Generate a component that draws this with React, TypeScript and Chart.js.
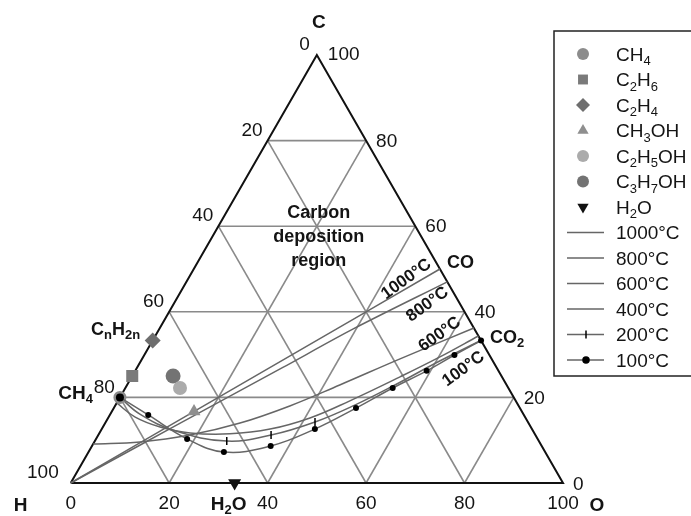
import React, { useEffect, useRef } from 'react';
import { Chart, registerables } from 'chart.js';
import { drawPoint } from 'chart.js/helpers';

Chart.register(...registerables);

const FONT = '"Liberation Sans", Arial, Helvetica, sans-serif';

// ---- axis ticks & grid (atom %) ----
const GRID_LEVELS = [20, 40, 60, 80];
const TICK_VALUES = [0, 20, 40, 60, 80, 100];

// ---- species compositions (atom % C, atom % O; H = rest) ----
const SPECIES_LABELS = ['CH{4}', 'C{2}H{6}', 'C{2}H{4}', 'CH{3}OH', 'C{2}H{5}OH', 'C{3}H{7}OH', 'H{2}O'];
const SPECIES_C = [20, 25, 33.3, 16.7, 22.2, 25, 0];
const SPECIES_O = [0, 0, 0, 16.7, 11.1, 8.3, 33.3];

// ---- carbon deposition boundaries (atom % C, atom % O) ----
const TEMP_LABELS = ['1000°C', '800°C', '600°C', '400°C', '200°C', '100°C'];
const T1000_C = [0, 10, 20, 30, 40, 50];
const T1000_O = [0, 10, 20, 30, 40, 50];
const T800_C = [0, 9, 18, 27, 36, 47];
const T800_O = [0, 9.8, 19.7, 29.6, 39.4, 53];
const T600_C = [9.1, 9.6, 11.2, 14.0, 18.0, 22.9, 29.0, 36.2];
const T600_O = [0, 9.3, 18.6, 27.4, 35.5, 43.2, 52.4, 63.8];
const T400_C = [18.7, 15.4, 13.1, 11.7, 11.5, 12.6, 15.2, 19.2, 24.8, 29.4, 34.35];
const T400_O = [0, 5.4, 11.6, 18.4, 26.6, 34.2, 41.0, 47.1, 54.5, 60.2, 65.65];
const T200_C = [20, 16.1, 12.2, 9.8, 11.2, 14.25, 18.2, 22.9, 28.5, 33.3];
const T200_O = [0, 6.0, 15.1, 26.8, 35.1, 42.5, 48.6, 54.4, 60.7, 66.7];
const T200_MARKED = [false, false, false, true, true, true, false, false, false, false];
const T100_C = [20, 15.9, 10.3, 7.24, 8.64, 12.6, 17.5, 22.2, 26.2, 29.9, 33.3];
const T100_O = [0, 7.8, 18.5, 27.5, 36.3, 43.3, 49.2, 54.3, 59.2, 63.0, 66.7];

// ---- styles ----
const SPECIES_POINT = ['circle', 'rect', 'rectRot', 'triangle', 'circle', 'circle', 'triangle'];
const SPECIES_COLOR = ['#8c8c8c', '#7a7a7a', '#6e6e6e', '#8f8f8f', '#ababab', '#737373', '#111111'];
const SPECIES_RADIUS = [6.5, 8.5, 8, 7.5, 7, 7.5, 7.5];
const SPECIES_LEGEND_RADIUS = [6, 7, 7, 6.5, 6, 6, 6.5];
const SPECIES_ROT = [0, 0, 0, 0, 0, 0, 180];
const CURVE_COLOR = '#666666';
const GRID_COLOR = '#8a8a8a';
const TEXT_COLOR = '#141414';

const toXY = (c: number, o: number) => ({ x: o + c / 2, y: c });
const path = (cs: number[], os: number[]) => cs.map((c, i) => toXY(c, os[i]));

function segs(text: string) {
  const out: { t: string; sub: boolean }[] = [];
  let buf = '';
  let i = 0;
  while (i < text.length) {
    const ch = text[i];
    if (ch === '{') {
      if (buf) out.push({ t: buf, sub: false });
      buf = '';
      const j = text.indexOf('}', i);
      out.push({ t: text.slice(i + 1, j), sub: true });
      i = j + 1;
      continue;
    }
    buf += ch;
    i++;
  }
  if (buf) out.push({ t: buf, sub: false });
  return out;
}

function drawRich(ctx: CanvasRenderingContext2D, text: string, x: number, y: number, size: number, bold: boolean, align: 'left' | 'center' | 'right') {
  const w8 = bold ? 'bold ' : '';
  const main = `${w8}${size}px ${FONT}`;
  const sub = `${w8}${Math.round(size * 0.7)}px ${FONT}`;
  const parts = segs(text);
  let w = 0;
  for (const p of parts) {
    ctx.font = p.sub ? sub : main;
    w += ctx.measureText(p.t).width;
  }
  let cx = align === 'center' ? x - w / 2 : align === 'right' ? x - w : x;
  ctx.textAlign = 'left';
  ctx.textBaseline = 'alphabetic';
  const base = y + size * 0.36;
  for (const p of parts) {
    ctx.font = p.sub ? sub : main;
    ctx.fillText(p.t, cx, p.sub ? base + size * 0.22 : base);
    cx += ctx.measureText(p.t).width;
  }
}

const TEMP_ANNOT = [
  { text: '1000°C', x: 68.0, y: 47.9 },
  { text: '800°C', x: 72.3, y: 42.0 },
  { text: '600°C', x: 74.8, y: 35.0 },
  { text: '100°C', x: 79.6, y: 26.9 },
];

const textPlugin = {
  id: 'ternaryText',
  afterDraw(chart: any) {
    const ctx: CanvasRenderingContext2D = chart.ctx;
    const xs = chart.scales.x;
    const ys = chart.scales.y;
    const P = (c: number, o: number) => ({ x: xs.getPixelForValue(o + c / 2), y: ys.getPixelForValue(c) });
    ctx.save();
    ctx.fillStyle = TEXT_COLOR;
    const reg = `19px ${FONT}`;
    ctx.font = reg;
    ctx.textBaseline = 'middle';
    for (const v of TICK_VALUES) {
      const b = P(0, v);
      ctx.font = reg;
      ctx.textAlign = 'center';
      ctx.fillText(String(v), b.x, b.y + 21);
      const l = P(100 - v, 0);
      ctx.textAlign = 'right';
      const lo = v === 100 ? -12 : v === 0 ? -7 : -5;
      ctx.fillText(String(v), l.x + lo, l.y - 10);
      const r = P(v, 100 - v);
      ctx.textAlign = 'left';
      const ro = v === 100 ? 11 : 10;
      const ry = v === 100 ? 0 : v === 0 ? 2 : 1;
      ctx.fillText(String(v), r.x + ro, r.y + ry);
    }
    const apex = P(100, 0);
    const hv = P(0, 0);
    const ov = P(0, 100);
    drawRich(ctx, 'C', apex.x + 2, apex.y - 34, 19, true, 'center');
    drawRich(ctx, 'H', hv.x - 50, hv.y + 21, 19, true, 'center');
    drawRich(ctx, 'O', ov.x + 34, ov.y + 21, 19, true, 'center');

    const ch4 = P(SPECIES_C[0], SPECIES_O[0]);
    drawRich(ctx, 'CH{4}', ch4.x - 27, ch4.y - 5, 19, true, 'right');
    const c2h4 = P(SPECIES_C[2], SPECIES_O[2]);
    drawRich(ctx, 'C{n}H{2n}', c2h4.x - 37, c2h4.y - 12, 18, true, 'center');
    const h2o = P(SPECIES_C[6], SPECIES_O[6]);
    drawRich(ctx, 'H{2}O', h2o.x - 6, h2o.y + 20, 19, true, 'center');
    const co = P(50, 50);
    drawRich(ctx, 'CO', co.x + 7, co.y - 7, 18, true, 'left');
    const co2 = P(33.3, 66.7);
    drawRich(ctx, 'CO{2}', co2.x + 9, co2.y - 4, 18, true, 'left');

    const rx = xs.getPixelForValue(50) + 2;
    drawRich(ctx, 'Carbon', rx, ys.getPixelForValue(63.5), 18, true, 'center');
    drawRich(ctx, 'deposition', rx, ys.getPixelForValue(57.9), 18, true, 'center');
    drawRich(ctx, 'region', rx, ys.getPixelForValue(52.1), 18, true, 'center');

    for (const a of TEMP_ANNOT) {
      ctx.save();
      ctx.translate(xs.getPixelForValue(a.x), ys.getPixelForValue(a.y));
      ctx.rotate((-36 * Math.PI) / 180);
      drawRich(ctx, a.text, 0, 0, 17, true, 'center');
      ctx.restore();
    }

    const lx = 554, ly = 31, lb = 376;
    ctx.strokeStyle = '#222';
    ctx.lineWidth = 1.5;
    ctx.strokeRect(lx, ly, 200, lb - ly);
    const items = chart.data.datasets.filter((d: any) => d.legendIndex !== undefined).sort((a: any, b: any) => a.legendIndex - b.legendIndex);
    items.forEach((d: any, i: number) => {
      const y = 54 + i * 25.5;
      if (d.legendKind === 'marker') {
        ctx.fillStyle = d.pointBackgroundColor;
        ctx.strokeStyle = d.pointBorderColor;
        drawPoint(ctx, { pointStyle: d.pointStyle, rotation: d.pointRotation || 0, radius: d.legendRadius, borderWidth: 0 } as any, 583, y);
      } else {
        ctx.strokeStyle = d.borderColor;
        ctx.lineWidth = d.borderWidth;
        ctx.beginPath();
        ctx.moveTo(567, y);
        ctx.lineTo(604, y);
        ctx.stroke();
        if (d.legendMark) {
          ctx.fillStyle = '#000';
          ctx.strokeStyle = '#000';
          drawPoint(ctx, { pointStyle: d.legendMark, rotation: d.legendMark === 'line' ? 90 : 0, radius: d.legendMark === 'line' ? 4 : 3, borderWidth: 1.5 } as any, 586, y);
        }
      }
      ctx.fillStyle = TEXT_COLOR;
      drawRich(ctx, d.label, 616, y, 19, false, 'left');
    });
    ctx.restore();
  },
};

export default function App() {
  const ref = useRef<HTMLCanvasElement>(null);
  useEffect(() => {
    const datasets: any[] = [];
    SPECIES_LABELS.forEach((lab, i) => {
      datasets.push({
        label: lab,
        data: [toXY(SPECIES_C[i], SPECIES_O[i])],
        showLine: false,
        pointStyle: SPECIES_POINT[i],
        pointRotation: SPECIES_ROT[i],
        pointRadius: SPECIES_RADIUS[i],
        pointBackgroundColor: SPECIES_COLOR[i],
        pointBorderColor: SPECIES_COLOR[i],
        pointBorderWidth: 0,
        clip: false,
        order: 1,
        legendIndex: i,
        legendKind: 'marker',
        legendRadius: SPECIES_LEGEND_RADIUS[i],
      });
    });
    const curves = [
      { c: T1000_C, o: T1000_O, tension: 0 },
      { c: T800_C, o: T800_O, tension: 0.3 },
      { c: T600_C, o: T600_O, tension: 0.4 },
      { c: T400_C, o: T400_O, tension: 0.4 },
      { c: T200_C, o: T200_O, tension: 0.4 },
      { c: T100_C, o: T100_O, tension: 0.4 },
    ];
    curves.forEach((cv, i) => {
      const is200 = i === 4;
      const is100 = i === 5;
      datasets.push({
        label: TEMP_LABELS[i],
        data: path(cv.c, cv.o),
        showLine: true,
        tension: cv.tension,
        borderColor: CURVE_COLOR,
        borderWidth: 1.5,
        pointStyle: is200 ? 'line' : 'circle',
        pointRotation: is200 ? 90 : 0,
        pointRadius: is100 ? cv.c.map((_, k) => (k === 0 ? 4 : 3)) : is200 ? T200_MARKED.map((m) => (m ? 4 : 0)) : 0,
        pointBackgroundColor: '#000',
        pointBorderColor: '#000',
        pointBorderWidth: is200 ? 1.5 : 0,
        clip: false,
        order: is100 ? 0 : 5,
        legendIndex: 7 + i,
        legendKind: 'line',
        legendMark: is200 ? 'line' : is100 ? 'circle' : null,
      });
    });
    datasets.push({
      label: 'border',
      data: [toXY(0, 0), toXY(0, 100), toXY(100, 0), toXY(0, 0)],
      showLine: true,
      borderColor: '#111',
      borderWidth: 2,
      pointRadius: 0,
      clip: false,
      order: 8,
    });
    GRID_LEVELS.forEach((L) => {
      const lines = [
        [toXY(L, 0), toXY(L, 100 - L)],
        [toXY(0, L), toXY(100 - L, L)],
        [toXY(0, 100 - L), toXY(100 - L, 0)],
      ];
      lines.forEach((ln) => {
        datasets.push({
          label: 'grid',
          data: ln,
          showLine: true,
          borderColor: GRID_COLOR,
          borderWidth: 1.6,
          pointRadius: 0,
          clip: false,
          order: 10,
        });
      });
    });

    const chart = new Chart(ref.current as HTMLCanvasElement, {
      type: 'scatter',
      data: { datasets },
      options: {
        animation: false,
        responsive: false,
        events: [],
        layout: { padding: { left: 70.7, right: 128, top: 55, bottom: 33 } },
        scales: {
          x: { type: 'linear', min: 0, max: 100, display: false },
          y: { type: 'linear', min: 0, max: 100, display: false },
        },
        plugins: { legend: { display: false }, tooltip: { enabled: false } },
      },
      plugins: [textPlugin],
    } as any);
    return () => chart.destroy();
  }, []);
  return (
    <div style={{ position: 'fixed', left: 0, top: 0, width: 691, height: 516, background: '#fff' }}>
      <canvas ref={ref} width={691} height={516} style={{ display: 'block', width: 691, height: 516 }} />
    </div>
  );
}
